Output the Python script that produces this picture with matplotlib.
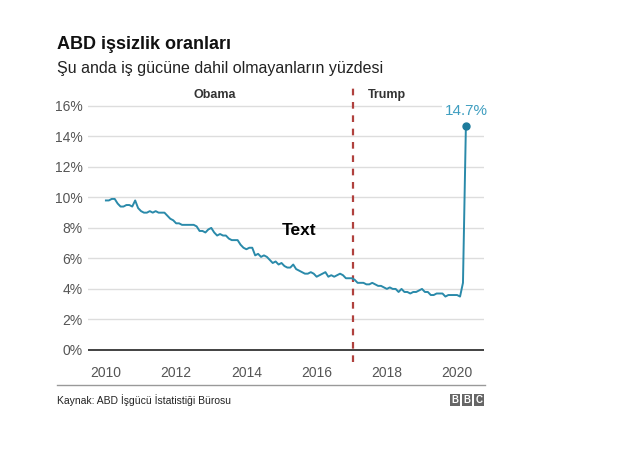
import numpy as np
import pandas as pd
import matplotlib.pyplot as plt
from matplotlib.patches import Rectangle

plt.rcParams["font.family"] = ["Liberation Sans", "DejaVu Sans"]

# monthly unemployment rate, Jan 2010 - Apr 2020
rate_2010 = [9.8, 9.8, 9.9, 9.9, 9.6, 9.4, 9.4, 9.5, 9.5, 9.4, 9.8, 9.3]
rate_2011 = [9.1, 9.0, 9.0, 9.1, 9.0, 9.1, 9.0, 9.0, 9.0, 8.8, 8.6, 8.5]
rate_2012 = [8.3, 8.3, 8.2, 8.2, 8.2, 8.2, 8.2, 8.1, 7.8, 7.8, 7.7, 7.9]
rate_2013 = [8.0, 7.7, 7.5, 7.6, 7.5, 7.5, 7.3, 7.2, 7.2, 7.2, 6.9, 6.7]
rate_2014 = [6.6, 6.7, 6.7, 6.2, 6.3, 6.1, 6.2, 6.1, 5.9, 5.7, 5.8, 5.6]
rate_2015 = [5.7, 5.5, 5.4, 5.4, 5.6, 5.3, 5.2, 5.1, 5.0, 5.0, 5.1, 5.0]
rate_2016 = [4.8, 4.9, 5.0, 5.1, 4.8, 4.9, 4.8, 4.9, 5.0, 4.9, 4.7, 4.7]
rate_2017 = [4.7, 4.6, 4.4, 4.4, 4.4, 4.3, 4.3, 4.4, 4.3, 4.2, 4.2, 4.1]
rate_2018 = [4.0, 4.1, 4.0, 4.0, 3.8, 4.0, 3.8, 3.8, 3.7, 3.8, 3.8, 3.9]
rate_2019 = [4.0, 3.8, 3.8, 3.6, 3.6, 3.7, 3.7, 3.7, 3.5, 3.6, 3.6, 3.6]
rate_2020 = [3.6, 3.5, 4.4, 14.7]

rates = (rate_2010 + rate_2011 + rate_2012 + rate_2013 + rate_2014 + rate_2015
         + rate_2016 + rate_2017 + rate_2018 + rate_2019 + rate_2020)
months = pd.date_range("2010-01-01", periods=len(rates), freq="MS")
t = months.year + (months.month - 1) / 12.0

y_ticks = [0, 2, 4, 6, 8, 10, 12, 14, 16]
x_ticks = [2010, 2012, 2014, 2016, 2018, 2020]
trump_start = 2017 + 0.5 / 12
line_color = "#2a8aaa"

fig = plt.figure(figsize=(6.4, 4.51), dpi=100)
ax = fig.add_axes([0.1375, 0.197, 0.619, 0.619])

for yv in y_ticks[1:]:
    ax.axhline(yv, color="#dddddd", lw=1, zorder=0)
ax.axhline(0, color="#333333", lw=1.3, zorder=1)

ax.plot(t, rates, color=line_color, lw=1.4, zorder=3)
ax.plot(t[-1], rates[-1], "o", color="#1d7b9c", ms=5, zorder=4)
ax.text(t[-1], rates[-1] + 0.5, "14.7%", color="#3f9ec0", fontsize=11,
        ha="center", va="bottom",
        bbox=dict(facecolor="white", edgecolor="none", pad=1.5), zorder=5)

ax.axvline(trump_start, color="#b0413e", lw=1.6, ls=(0, (3, 3)), zorder=2)

ax.text(2013.1, 16.7, "Obama", fontsize=9, fontweight="bold", color="#333333",
        ha="center", va="center")
ax.text(2018.0, 16.7, "Trump", fontsize=9, fontweight="bold", color="#333333",
        ha="center", va="center")
ax.text(2015.5, 7.8, "Text", fontsize=12.5, fontweight="bold", color="black",
        ha="center", va="center")

ax.set_xlim(2009.49, 2020.77)
ax.set_ylim(-0.8, 17.5)
ax.set_yticks(y_ticks)
ax.set_yticklabels([f"{v}%" for v in y_ticks])
ax.set_xticks(x_ticks)
ax.tick_params(axis="both", length=0, labelsize=10, labelcolor="#555555")
ax.tick_params(axis="y", pad=4)
ax.tick_params(axis="x", pad=3)
for s in ax.spines.values():
    s.set_visible(False)

fig.text(0.089, 0.902, "ABD işsizlik oranları", fontsize=13, fontweight="bold",
         color="#111111", va="center")
fig.text(0.089, 0.849, "Şu anda iş gücüne dahil olmayanların yüzdesi", fontsize=11.5,
         color="#222222", va="center")

fig.add_artist(plt.Line2D([0.089, 0.758], [0.146, 0.146], color="#999999", lw=1,
                          transform=fig.transFigure))
fig.text(0.089, 0.113, "Kaynak: ABD İşgücü İstatistiği Bürosu", fontsize=7.5,
         color="#222222", va="center")

# BBC blocks
bw, bh, gap = 0.0165, 0.027, 0.0025
x0 = 0.757 - 3 * bw - 2 * gap
for i, letter in enumerate("BBC"):
    xb = x0 + i * (bw + gap)
    fig.add_artist(Rectangle((xb, 0.1), bw, bh, facecolor="#666666",
                             edgecolor="none", transform=fig.transFigure))
    fig.text(xb + bw / 2, 0.1 + bh / 2, letter, fontsize=7, fontweight="bold",
             color="white", ha="center", va="center")

fig.savefig("out.png", dpi=100)
